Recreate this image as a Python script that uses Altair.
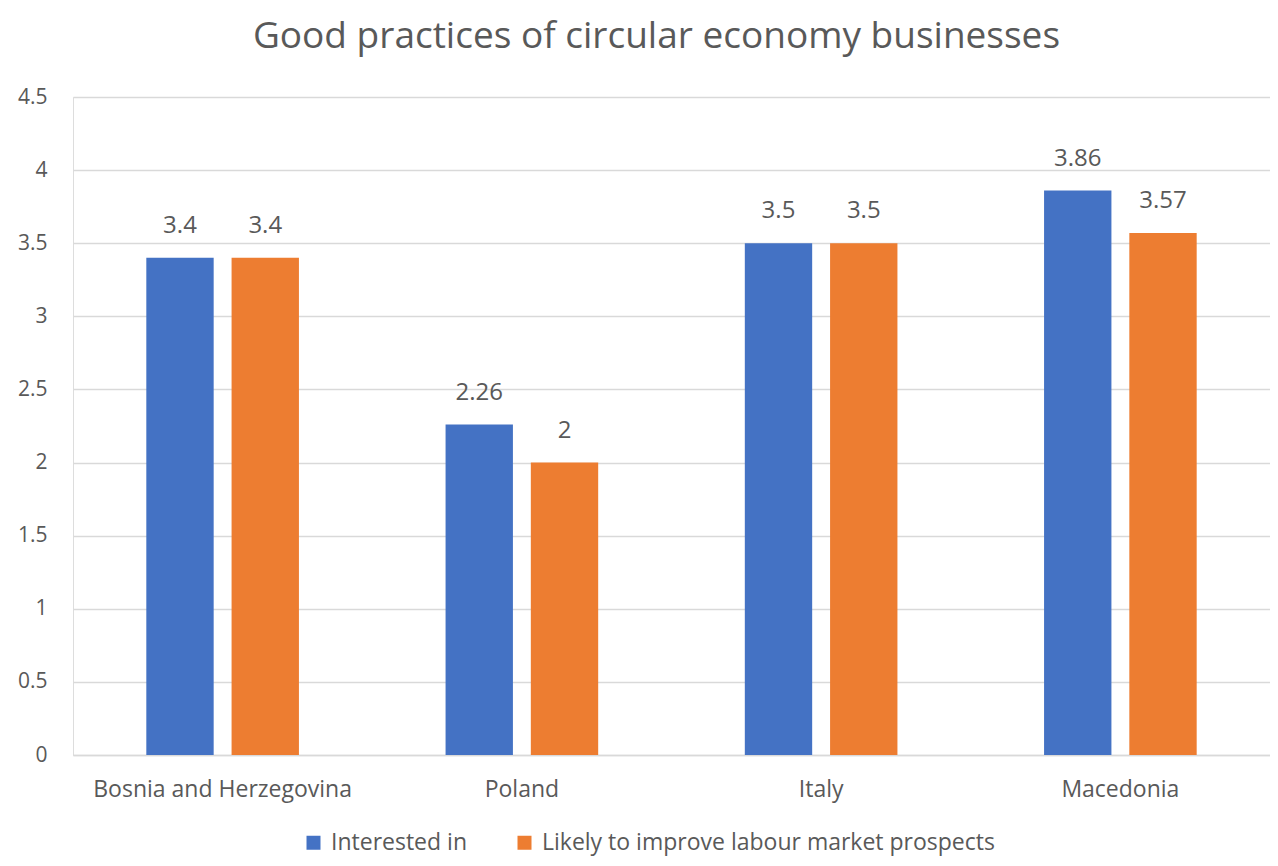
import altair as alt
import pandas as pd

countries = ["Bosnia and Herzegovina", "Poland", "Italy", "Macedonia"]
series = ["Interested in", "Likely to improve labour market prospects"]
interested = [3.4, 2.26, 3.5, 3.86]
likely = [3.4, 2.0, 3.5, 3.57]
y_ticks = [0, 0.5, 1, 1.5, 2, 2.5, 3, 3.5, 4, 4.5]
colors = ["#4472C4", "#ED7D31"]

rows = []
for c, a, b in zip(countries, interested, likely):
    rows.append({"country": c, "series": series[0], "value": a})
    rows.append({"country": c, "series": series[1], "value": b})
df = pd.DataFrame(rows)

FONT = "Open Sans"
GRAY = "#595959"

x = alt.X("country:N", sort=countries, title=None,
          scale=alt.Scale(paddingInner=0.49, paddingOuter=0.245),
          axis=alt.Axis(labelAngle=0, labelFontSize=23, labelColor=GRAY, labelFont=FONT,
                        labelLimit=0, ticks=False, domainColor="#D9D9D9", domainWidth=1.5,
                        labelPadding=23))
xo = alt.XOffset("series:N", sort=series, scale=alt.Scale(paddingInner=0.21, paddingOuter=0))
y = alt.Y("value:Q", title=None,
          scale=alt.Scale(domain=[0, 4.5], nice=False),
          axis=alt.Axis(values=y_ticks, labelFontSize=21, labelColor=GRAY, labelFont=FONT,
                        ticks=False, domain=False, gridColor="#D9D9D9", gridWidth=1.5,
                        labelPadding=26, labelExpr="datum.value"))

base = alt.Chart(df).encode(x=x, xOffset=xo, y=y)

bars = base.mark_bar().encode(
    color=alt.Color("series:N", sort=series,
                    scale=alt.Scale(domain=series, range=colors),
                    legend=alt.Legend(title=None, orient="none", direction="horizontal",
                                      legendX=229, legendY=734,
                                      symbolType="square", symbolSize=196,
                                      symbolStrokeWidth=0, labelFontSize=23,
                                      labelColor=GRAY, labelFont=FONT, labelLimit=0,
                                      columnPadding=46, labelOffset=6))
)

labels = base.mark_text(dy=-20, fontSize=24, color=GRAY, font=FONT, baseline="bottom").encode(
    text=alt.Text("value:Q")
)

chart = (bars + labels).properties(
    width=1197, height=658,
    title=alt.TitleParams("Good practices of circular economy businesses",
                          fontSize=37, font=FONT, fontWeight="normal", color=GRAY,
                          anchor="middle", offset=30, dx=-15),
    autosize=alt.AutoSizeParams(type="none"),
    padding={"left": 65, "top": 89, "right": 0, "bottom": 102},
).configure_view(stroke=None).configure(background="white")

chart.save("out.html", embed_options={"renderer": "svg", "actions": False})
